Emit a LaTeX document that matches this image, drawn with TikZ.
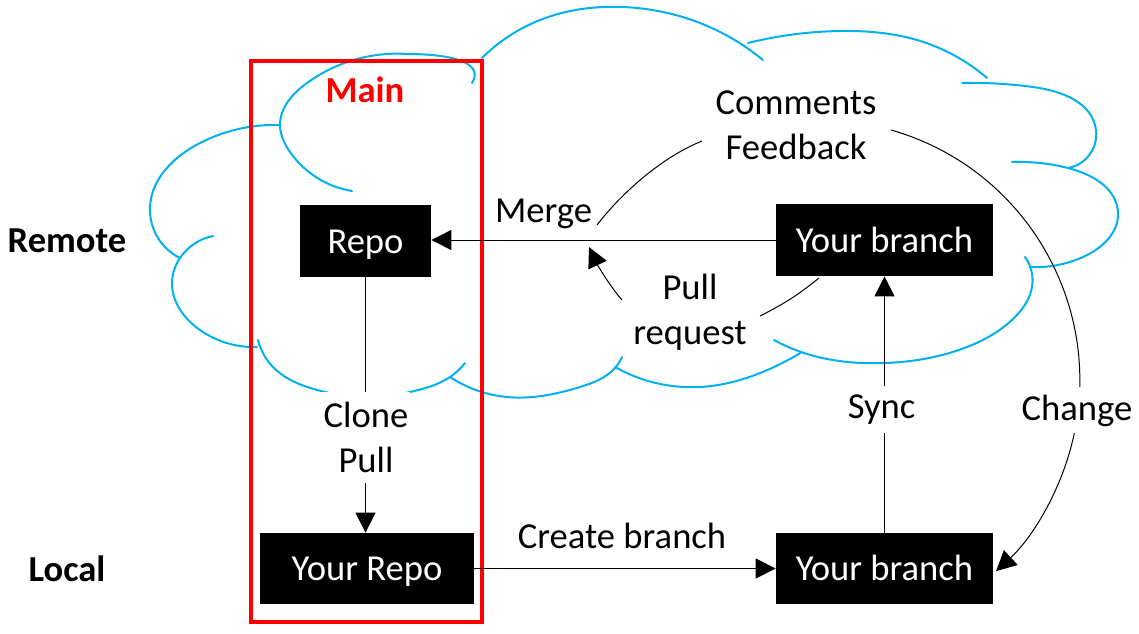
\documentclass[tikz,border=0pt]{standalone}
\usepackage{fontspec}
\setmainfont{Carlito}
\usetikzlibrary{arrows.meta,calc,hobby}
\definecolor{cloudblue}{HTML}{00B0F0}
\definecolor{mainred}{HTML}{FF0000}
\begin{document}
\begin{tikzpicture}[x={(0.5pt,0)}, y={(0,-0.5pt)},
  every node/.style={font=\fontsize{18.3pt}{22.5pt}\selectfont},
  boldlbl/.style={font=\fontsize{18.3pt}{22.5pt}\selectfont\bfseries, inner sep=0pt, anchor=base},
  box/.style={fill=black, text=white, inner sep=0pt, text height=12pt, text depth=0pt},
  lbl/.style={inner sep=0pt, align=center},
  gaplbl/.style={fill=white, inner sep=0pt, align=center},
  conn/.style={line width=0.5pt, draw=black},
  tip/.style={-{Triangle[length=10pt,width=10pt]}},
  cloudline/.style={draw=cloudblue, line width=1pt, line cap=round, use Hobby shortcut},
  cloudplain/.style={draw=cloudblue, line width=1pt, line cap=round},
  frame/.style={draw=mainred, line width=2pt}
]
\useasboundingbox (0,0) rectangle (1139,633);

% cloud
\draw[cloudline] (279,125) .. (200,143) .. (150,207) .. (180,258);
\draw[cloudline] (213,236) .. (180,258) .. (172,283) .. (200,330) .. (257,347);
\draw[cloudline] (258,340) .. (273,367) .. (325,392) .. (367,398) .. (410,392) .. (450,377) .. (465,363);
\draw[cloudline] (352,191) .. (290,152) .. (280,125) .. (307,83) .. (407,54);
\draw[cloudplain] (407,54) .. controls (450,54) and (485,62) .. (472,83);
\draw[cloudline] (482,58) .. (540,20) .. (623,7) .. (700,23) .. (763,60);
\draw[cloudline] (748,43) .. (841,31) .. (917,40) .. (987,78);
\draw[cloudline] (962,83) .. (1033,87) .. (1096,130) .. (1068,168);
\draw[cloudline] (1012,162) .. (1068,168) .. (1118,213) .. (1083,257) .. (1030,267);
\draw[cloudline] (1025,257) .. (1032,287) .. (1015,317) .. (967,347) .. (885,363) .. (804,353) .. (774,340);
\draw[cloudline] (802,352) .. (774,367) .. (700,387) .. (615,367);
\draw[cloudline] (622,357) .. (615,368) .. (580,387) .. (507,397) .. (450,377);

% red frame
\draw[frame] (251,60.5) rectangle (482,621.5);

% boxes
\node[box, minimum width=65.5pt, minimum height=36pt] (repo) at (365.5,241) {Repo};
\node[box, minimum width=107pt, minimum height=35.5pt] (yrepo) at (367,568.5) {Your Repo};
\node[box, minimum width=108.5pt, minimum height=36pt] (tbr) at (884.5,240) {Your branch};
\node[box, minimum width=108.5pt, minimum height=35.5pt] (bbr) at (884.5,568.5) {Your branch};

% side labels
\node[boldlbl, text=mainred] (main) at (365,102) {Main};
\node[boldlbl] (remote) at (67,252) {Remote};
\node[boldlbl] (local) at (67,581) {Local};

% straight connectors
\draw[conn,tip] (tbr.west) -- (tbr.west -| repo.east);
\draw[conn,tip] (repo.south) -- (repo.south |- yrepo.north);
\draw[conn,tip] (yrepo.east) -- (bbr.west);
\draw[conn,tip] (bbr.north) -- (tbr.south);

% curved connectors
\coordinate (p1) at (819,278);
\coordinate (p2) at (760,316);
\coordinate (p3) at (622,300);
\coordinate (p4) at (589,247);
\coordinate (p5) at (597,225);
\coordinate (p6) at (702,141);
\coordinate (p7) at (891,130);
\draw[conn] (p1) to[bend left=6] (p2);
\draw[conn,tip] (p3) .. controls (609,285) and (597,264) .. (p4);
\draw[conn] (p5) .. controls (620,195) and (660,158) .. (p6);
\draw[conn,tip] (p7) arc[start angle=74.1, end angle=-47.3, radius=130pt];

% labels
\node[lbl, anchor=base] (merge) at (543.5,222) {Merge};
\node[lbl] (cf) at (796,125.5) {Comments\\Feedback};
\node[lbl] (pr) at (690,312.5) {Pull\\request};
\node[lbl, anchor=base] (create) at (622,548) {Create branch};
\node[gaplbl, minimum width=44pt, minimum height=45.5pt] (clone) at (366,437.5) {Clone\\Pull};
\node[gaplbl, minimum height=23.5pt, inner xsep=2pt, anchor=base] (sync) at (881.6,418) {Sync};
\node[gaplbl, minimum height=23pt, inner xsep=2pt, anchor=base] (change) at (1077,420) {Change};
\end{tikzpicture}
\end{document}
